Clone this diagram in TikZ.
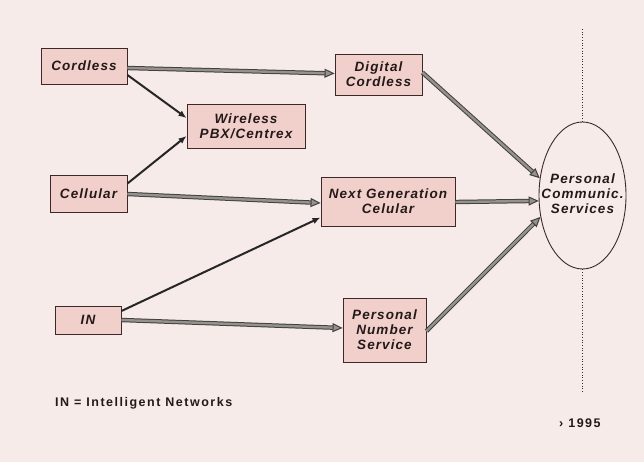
\documentclass[tikz,border=0pt]{standalone}
\usepackage{fontspec}
\setmainfont{Liberation Sans}
\usetikzlibrary{arrows.meta,shapes.geometric,calc}
\definecolor{bgpink}{RGB}{246,235,232}
\definecolor{boxpink}{RGB}{241,208,203}
\definecolor{ink}{RGB}{60,40,40}
\definecolor{txt}{RGB}{35,25,25}
\definecolor{hatchgray}{RGB}{150,145,140}
\newfontfamily\labfont[LetterSpace=8]{Liberation Sans}
\newfontfamily\legfont[LetterSpace=12]{Liberation Sans}
\tikzset{
  box/.style={draw=ink, line width=0.9pt, fill=boxpink, text=txt, align=center,
    font=\labfont\fontsize{13.5}{15}\selectfont\bfseries\itshape, inner sep=0pt},
  thinarrow/.style={draw=black!85, line width=2pt, -{Latex[length=8pt,width=6.5pt]}},
  hatcharrow/.style={draw=black!75, line width=1pt, double=hatchgray, double distance=2.4pt,
    -{Triangle[length=10pt,width=9pt,fill=hatchgray]}},
  dotline/.style={draw=ink, line width=0.7pt, dotted},
  plain/.style={text=txt, font=\legfont\fontsize{12.5}{14}\selectfont\bfseries, inner sep=0pt, anchor=base west}
}
\begin{document}
\begin{tikzpicture}[x=1pt,y=-1pt]
\fill[bgpink] (0,0) rectangle (644,462);
\useasboundingbox (0,0) rectangle (644,462);

\node[box, minimum width=86pt, minimum height=36pt] (cord) at (84,66) {Cordless};
\node[box, minimum width=118pt, minimum height=44pt] (wpbx) at (246,126) {Wireless\\PBX/Centrex};
\node[box, minimum width=77pt, minimum height=37pt] (cell) at (88.5,193.5) {Cellular};
\node[box, minimum width=87pt, minimum height=41pt] (dig) at (378.5,74.5) {Digital\\Cordless};
\node[box, minimum width=134pt, minimum height=49pt] (ngc) at (388,201.5) {Next Generation\\Celular};
\node[box, minimum width=66pt, minimum height=28pt] (in) at (88,320) {IN};
\node[box, minimum width=83pt, minimum height=64pt] (pns) at (384.5,330) {Personal\\Number\\Service};
\node[ellipse, draw=ink, line width=0.9pt, minimum width=87pt, minimum height=147pt, inner sep=0pt,
  text=txt, font=\labfont\fontsize{13.5}{15}\selectfont\bfseries\itshape] (pcs) at (582.5,195.5)
  {\makebox[40pt]{\begin{tabular}{@{}c@{}}Personal\\Communic.\\Services\end{tabular}}};

\coordinate (dtop) at (582.5,29);
\coordinate (dbot) at (582.5,392);
\draw[dotline] (pcs.north) -- (dtop);
\draw[dotline] (pcs.south) -- (dbot);

% thin arrows
\draw[thinarrow] ($(cord.east)+(0,9)$) -- ($(wpbx.west)+(0,-8)$);
\draw[thinarrow] ($(cell.east)+(0,-10)$) -- ($(wpbx.west)+(0,10)$);
\draw[thinarrow] ($(in.east)+(0,-9)$) -- ($(ngc.west)+(0,16)$);

% hatched arrows
\draw[hatcharrow] ($(cord.east)+(0,2)$) -- ($(dig.west)+(0,-1)$);
\draw[hatcharrow] ($(cell.east)+(0,0.5)$) -- ($(ngc.west)+(0,1.5)$);
\draw[hatcharrow] ($(in.east)+(0,0)$) -- ($(pns.west)+(0,-2)$);
\draw[hatcharrow] ($(dig.east)+(0,-2)$) -- (pcs.158);
\draw[hatcharrow] ($(ngc.east)+(0,0.5)$) -- (pcs.187);
\draw[hatcharrow] ($(pns.east)+(0,1)$) -- (pcs.207);

\node[plain] (legend) at (55,406) {IN = Intelligent Networks};
\node[plain] (year) at (559,427) {› 1995};
\end{tikzpicture}
\end{document}
